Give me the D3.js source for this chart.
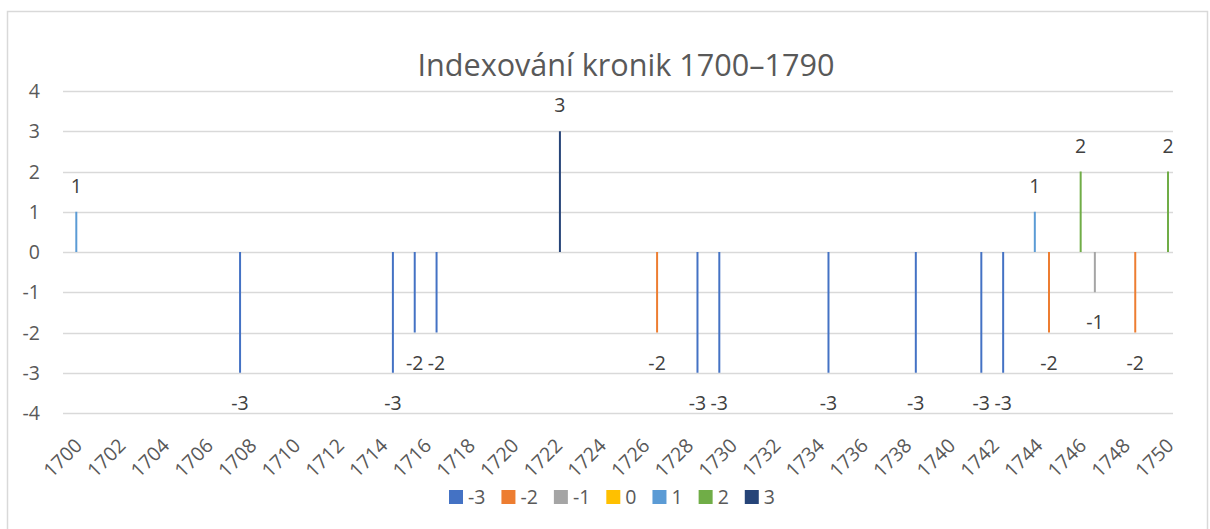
<!DOCTYPE html>
<html>
<head>
    <meta charset="utf-8">
    <style>
        body {
            margin: 0;
            background: white;
            font-family: 'Open Sans', 'Noto Sans', sans-serif;
        }
        svg {
            display: block;
        }
    </style>
</head>
<body>
    <svg width="1210" height="529"></svg>

<script src="https://d3js.org/d3.v7.min.js"></script>
<script>
    // data: year (as plotted), index value and the series the point is drawn in
    let years = [1700.0, 1707.5, 1714.5, 1715.5, 1716.5, 1722.15, 1726.6, 1728.45, 1729.45,
        1734.45, 1738.45, 1741.45, 1742.45, 1743.9, 1744.55, 1746.0, 1746.65, 1748.5, 1750.0]
    let values = [1, -3, -3, -2, -2, 3, -2, -3, -3, -3, -3, -3, -3, 1, -2, 2, -1, -2, 2]
    let series = [1, -3, -3, -3, -3, 3, -2, -3, -3, -3, -3, -3, -3, 1, -2, 2, -1, -2, 2]

    let seriesKeys = [-3, -2, -1, 0, 1, 2, 3]
    let seriesColors = ["#4472C4", "#ED7D31", "#A5A5A5", "#FFC000", "#5B9BD5", "#70AD47", "#264478"]

    let yTicks = [-4, -3, -2, -1, 0, 1, 2, 3, 4]
    let xTicks = d3.range(1700, 1751, 2)

    let title = "Indexování kronik 1700–1790"

    let data = years.map((y, i) => ({ year: y, value: values[i], series: series[i] }))

    let svg = d3.select("svg")

    // plot area
    let plotLeft = 63, plotRight = 1173
    let plotTop = 91, plotBottom = 413

    let x = d3.scaleLinear().domain([1700, 1750]).range([76.3, 1168])
    let y = d3.scaleLinear().domain([-4, 4]).range([plotBottom, plotTop])
    let color = d3.scaleOrdinal().domain(seriesKeys).range(seriesColors)

    let fs = "19.5px"

    // chart frame
    svg.append("rect")
        .attr("x", 7.5)
        .attr("y", 11.5)
        .attr("width", 1200)
        .attr("height", 540)
        .attr("fill", "white")
        .attr("stroke", "#d9d9d9")
        .attr("stroke-width", 1.5)

    svg.append("text")
        .attr("x", 626)
        .attr("y", 76)
        .attr("text-anchor", "middle")
        .style("font-size", "30.6px")
        .style("fill", "#595959")
        .text(title)

    // gridlines
    svg.append("g")
        .selectAll("line")
        .data(yTicks)
        .join("line")
        .attr("x1", plotLeft)
        .attr("x2", plotRight)
        .attr("y1", d => Math.round(y(d)) + 0.5)
        .attr("y2", d => Math.round(y(d)) + 0.5)
        .attr("stroke", "#d9d9d9")
        .attr("stroke-width", 1.5)

    // y labels
    svg.append("g")
        .selectAll("text")
        .data(yTicks)
        .join("text")
        .attr("x", 40)
        .attr("y", d => y(d))
        .attr("dy", "0.36em")
        .attr("text-anchor", "end")
        .style("font-size", fs)
        .style("fill", "#595959")
        .text(d => d)

    // x labels, rotated
    svg.append("g")
        .selectAll("text")
        .data(xTicks)
        .join("text")
        .attr("transform", d => "translate(" + (x(d) + 2) + "," + 442 + ") rotate(-45)")
        .attr("dy", "0.36em")
        .attr("text-anchor", "end")
        .style("font-size", fs)
        .style("fill", "#595959")
        .text(d => d)

    // drop lines from zero
    svg.append("g")
        .selectAll("line")
        .data(data)
        .join("line")
        .attr("x1", d => x(d.year))
        .attr("x2", d => x(d.year))
        .attr("y1", y(0))
        .attr("y2", d => y(d.value))
        .attr("stroke", d => color(d.series))
        .attr("stroke-width", 2)

    // data labels
    svg.append("g")
        .selectAll("text")
        .data(data)
        .join("text")
        .attr("x", d => x(d.year))
        .attr("y", d => d.value > 0 ? y(d.value) - 26 : y(d.value) + 30)
        .attr("dy", "0.36em")
        .attr("text-anchor", "middle")
        .style("font-size", fs)
        .style("fill", "#404040")
        .text(d => d.value)

    // legend
    let legend = svg.append("g")
    let lx = 449
    seriesKeys.forEach((k, i) => {
        let item = legend.append("g").attr("transform", "translate(" + lx + ",497)")
        item.append("rect")
            .attr("x", 0)
            .attr("y", -7)
            .attr("width", 14)
            .attr("height", 14)
            .attr("fill", seriesColors[i])
        let t = item.append("text")
            .attr("x", 19)
            .attr("dy", "0.36em")
            .style("font-size", fs)
            .style("fill", "#595959")
            .text(k)
        lx += 19 + t.node().getComputedTextLength() + 16
    })
</script>
</body>
</html>
